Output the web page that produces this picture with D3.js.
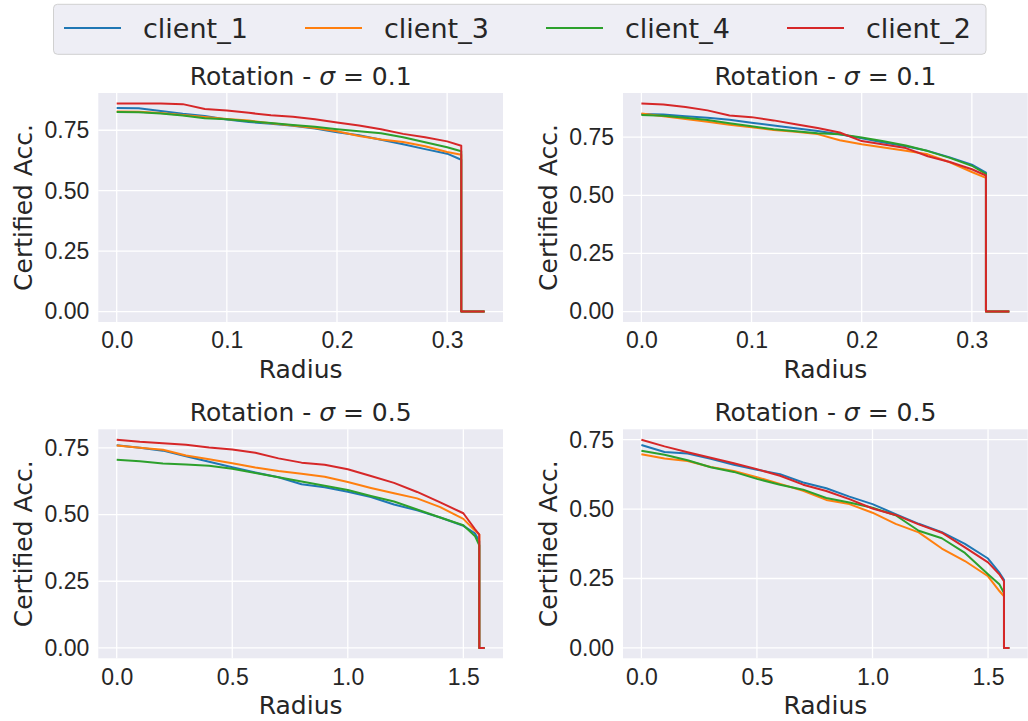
<!DOCTYPE html>
<html>
<head>
<meta charset="utf-8">
<script src="https://cdn.jsdelivr.net/npm/d3@7"></script>
<style>
  body { margin: 0; background: #fff; }
  svg { display: block; font-family: "DejaVu Sans", sans-serif; }
  .tick text { fill: #262626; font-size: 23px; }
  .lbl { fill: #262626; font-size: 25px; }
</style>
</head>
<body>
<svg id="chart" width="1028" height="721"></svg>
<script>
const svg = d3.select("#chart");

const clients = ["client_1", "client_3", "client_4", "client_2"];
const colors = ["#1f77b4", "#ff7f0e", "#2ca02c", "#d62728"];

// sigma = 0.1 panels
const radiiSmall = [0, 0.02, 0.04, 0.06, 0.08, 0.10, 0.12, 0.14, 0.16, 0.18, 0.20, 0.22, 0.24, 0.26, 0.28, 0.30, 0.3128];
const endSmall = 0.334;
const xTicksSmall = [0, 0.1, 0.2, 0.3];

const accTL = {
  client_1: [0.842, 0.841, 0.830, 0.818, 0.809, 0.794, 0.784, 0.777, 0.769, 0.757, 0.742, 0.729, 0.711, 0.692, 0.672, 0.653, 0.628],
  client_3: [0.828, 0.826, 0.821, 0.813, 0.805, 0.797, 0.790, 0.779, 0.770, 0.759, 0.746, 0.726, 0.712, 0.701, 0.684, 0.660, 0.649],
  client_4: [0.825, 0.824, 0.819, 0.811, 0.800, 0.795, 0.787, 0.780, 0.772, 0.764, 0.754, 0.746, 0.738, 0.721, 0.700, 0.680, 0.663],
  client_2: [0.861, 0.861, 0.861, 0.858, 0.838, 0.832, 0.822, 0.812, 0.806, 0.795, 0.782, 0.770, 0.754, 0.735, 0.721, 0.704, 0.686]
};
const accTR = {
  client_1: [0.850, 0.847, 0.840, 0.833, 0.825, 0.812, 0.800, 0.788, 0.776, 0.762, 0.745, 0.727, 0.711, 0.691, 0.663, 0.632, 0.597],
  client_3: [0.852, 0.840, 0.828, 0.816, 0.803, 0.792, 0.781, 0.773, 0.763, 0.737, 0.719, 0.705, 0.691, 0.676, 0.642, 0.600, 0.575],
  client_4: [0.845, 0.842, 0.833, 0.824, 0.810, 0.797, 0.784, 0.775, 0.767, 0.762, 0.748, 0.732, 0.714, 0.690, 0.661, 0.627, 0.592],
  client_2: [0.895, 0.890, 0.880, 0.865, 0.843, 0.836, 0.822, 0.805, 0.789, 0.770, 0.733, 0.718, 0.703, 0.668, 0.643, 0.612, 0.585]
};

// sigma = 0.5 panels
const radiiLarge = [0, 0.1, 0.2, 0.3, 0.4, 0.5, 0.6, 0.7, 0.8, 0.9, 1.0, 1.1, 1.2, 1.3, 1.4, 1.5, 1.55, 1.569];
const endLarge = 1.592;
const xTicksLarge = [0, 0.5, 1.0, 1.5];

const accBL = {
  client_1: [0.760, 0.751, 0.740, 0.719, 0.698, 0.678, 0.658, 0.640, 0.614, 0.603, 0.586, 0.566, 0.538, 0.516, 0.489, 0.458, 0.430, 0.400],
  client_3: [0.759, 0.751, 0.743, 0.722, 0.708, 0.693, 0.677, 0.664, 0.653, 0.642, 0.622, 0.600, 0.580, 0.561, 0.528, 0.484, 0.440, 0.425],
  client_4: [0.706, 0.700, 0.692, 0.688, 0.683, 0.672, 0.656, 0.640, 0.624, 0.608, 0.592, 0.570, 0.549, 0.519, 0.489, 0.460, 0.420, 0.385],
  client_2: [0.781, 0.773, 0.768, 0.762, 0.752, 0.744, 0.732, 0.711, 0.695, 0.687, 0.670, 0.645, 0.619, 0.585, 0.546, 0.505, 0.446, 0.425]
};
const accBR = {
  client_1: [0.731, 0.706, 0.700, 0.681, 0.660, 0.642, 0.626, 0.596, 0.575, 0.545, 0.518, 0.482, 0.447, 0.417, 0.375, 0.322, 0.270, 0.245],
  client_3: [0.698, 0.682, 0.673, 0.652, 0.637, 0.615, 0.591, 0.566, 0.533, 0.518, 0.487, 0.447, 0.416, 0.358, 0.313, 0.258, 0.204, 0.186],
  client_4: [0.710, 0.696, 0.676, 0.651, 0.634, 0.609, 0.588, 0.570, 0.540, 0.524, 0.505, 0.478, 0.422, 0.395, 0.342, 0.265, 0.228, 0.198],
  client_2: [0.750, 0.726, 0.705, 0.685, 0.665, 0.644, 0.620, 0.588, 0.565, 0.536, 0.502, 0.479, 0.445, 0.415, 0.362, 0.308, 0.264, 0.240]
};

const yTicks = [0, 0.25, 0.5, 0.75];

const panels = [
  { left: 98.3, top: 93, title: "0.1", radii: radiiSmall, end: endSmall, acc: accTL, xt: xTicksSmall },
  { left: 623, top: 93, title: "0.1", radii: radiiSmall, end: endSmall, acc: accTR, xt: xTicksSmall },
  { left: 98.3, top: 429.3, title: "0.5", radii: radiiLarge, end: endLarge, acc: accBL, xt: xTicksLarge },
  { left: 623, top: 429.3, title: "0.5", radii: radiiLarge, end: endLarge, acc: accBR, xt: xTicksLarge }
];
const pw = 404.7, ph = 229;

function pad(lo, hi) { const m = (hi - lo) * 0.05; return [lo - m, hi + m]; }

panels.forEach(p => {
  const g = svg.append("g").attr("transform", `translate(${p.left},${p.top})`);
  const series = clients.map(c => {
    const pts = p.radii.map((r, i) => [r, p.acc[c][i]]);
    const last = p.radii[p.radii.length - 1];
    pts.push([last, 0], [p.end, 0]);
    return pts;
  });
  const yMax = d3.max(series, s => d3.max(s, d => d[1]));
  const x = d3.scaleLinear().domain(pad(0, p.end)).range([0, pw]);
  const y = d3.scaleLinear().domain(pad(0, yMax)).range([ph, 0]);

  g.append("rect").attr("width", pw).attr("height", ph).attr("fill", "#eaeaf2");
  g.selectAll(".gx").data(p.xt).join("line")
    .attr("x1", d => x(d)).attr("x2", d => x(d)).attr("y1", 0).attr("y2", ph)
    .attr("stroke", "#fff").attr("stroke-width", 1.3);
  g.selectAll(".gy").data(yTicks).join("line")
    .attr("y1", d => y(d)).attr("y2", d => y(d)).attr("x1", 0).attr("x2", pw)
    .attr("stroke", "#fff").attr("stroke-width", 1.3);

  const xa = g.append("g").attr("transform", `translate(0,${ph})`)
    .call(d3.axisBottom(x).tickValues(p.xt).tickFormat(d3.format(".1f")).tickSize(0).tickPadding(10));
  const ya = g.append("g")
    .call(d3.axisLeft(y).tickValues(yTicks).tickFormat(d3.format(".2f")).tickSize(0).tickPadding(9));
  [xa, ya].forEach(a => { a.select(".domain").remove(); a.selectAll("text").attr("font-family", null).attr("font-size", null); });

  const line = d3.line().x(d => x(d[0])).y(d => y(d[1]));
  g.selectAll(".series").data(series).join("path")
    .attr("d", line).attr("fill", "none")
    .attr("stroke", (d, i) => colors[i]).attr("stroke-width", 2)
    .attr("stroke-linejoin", "round");

  g.append("text").attr("class", "lbl").attr("x", pw / 2).attr("y", ph + 56)
    .attr("text-anchor", "middle").text("Radius");
  g.append("text").attr("class", "lbl").attr("transform", `translate(-66,${ph / 2}) rotate(-90)`)
    .attr("text-anchor", "middle").text("Certified Acc.");
  const t = g.append("text").attr("class", "lbl").attr("x", pw / 2).attr("y", -8).attr("text-anchor", "middle");
  t.append("tspan").text("Rotation - ");
  t.append("tspan").attr("font-style", "italic").text("σ");
  t.append("tspan").text(" = " + p.title);
});

// legend
const lg = svg.append("g");
lg.append("rect").attr("x", 53.5).attr("y", 4.3).attr("width", 932.5).attr("height", 50)
  .attr("rx", 4).attr("fill", "#eeeef5").attr("stroke", "#d0d0d0").attr("stroke-width", 1);
const items = lg.selectAll(".item").data(clients).join("g")
  .attr("transform", (d, i) => `translate(${64 + i * 241},28)`);
items.append("line").attr("x1", 0).attr("x2", 57).attr("stroke", (d, i) => colors[i]).attr("stroke-width", 2);
items.append("text").attr("x", 79).attr("y", 9.5).attr("font-size", 27).attr("fill", "#262626").text(d => d);
</script>
</body>
</html>
